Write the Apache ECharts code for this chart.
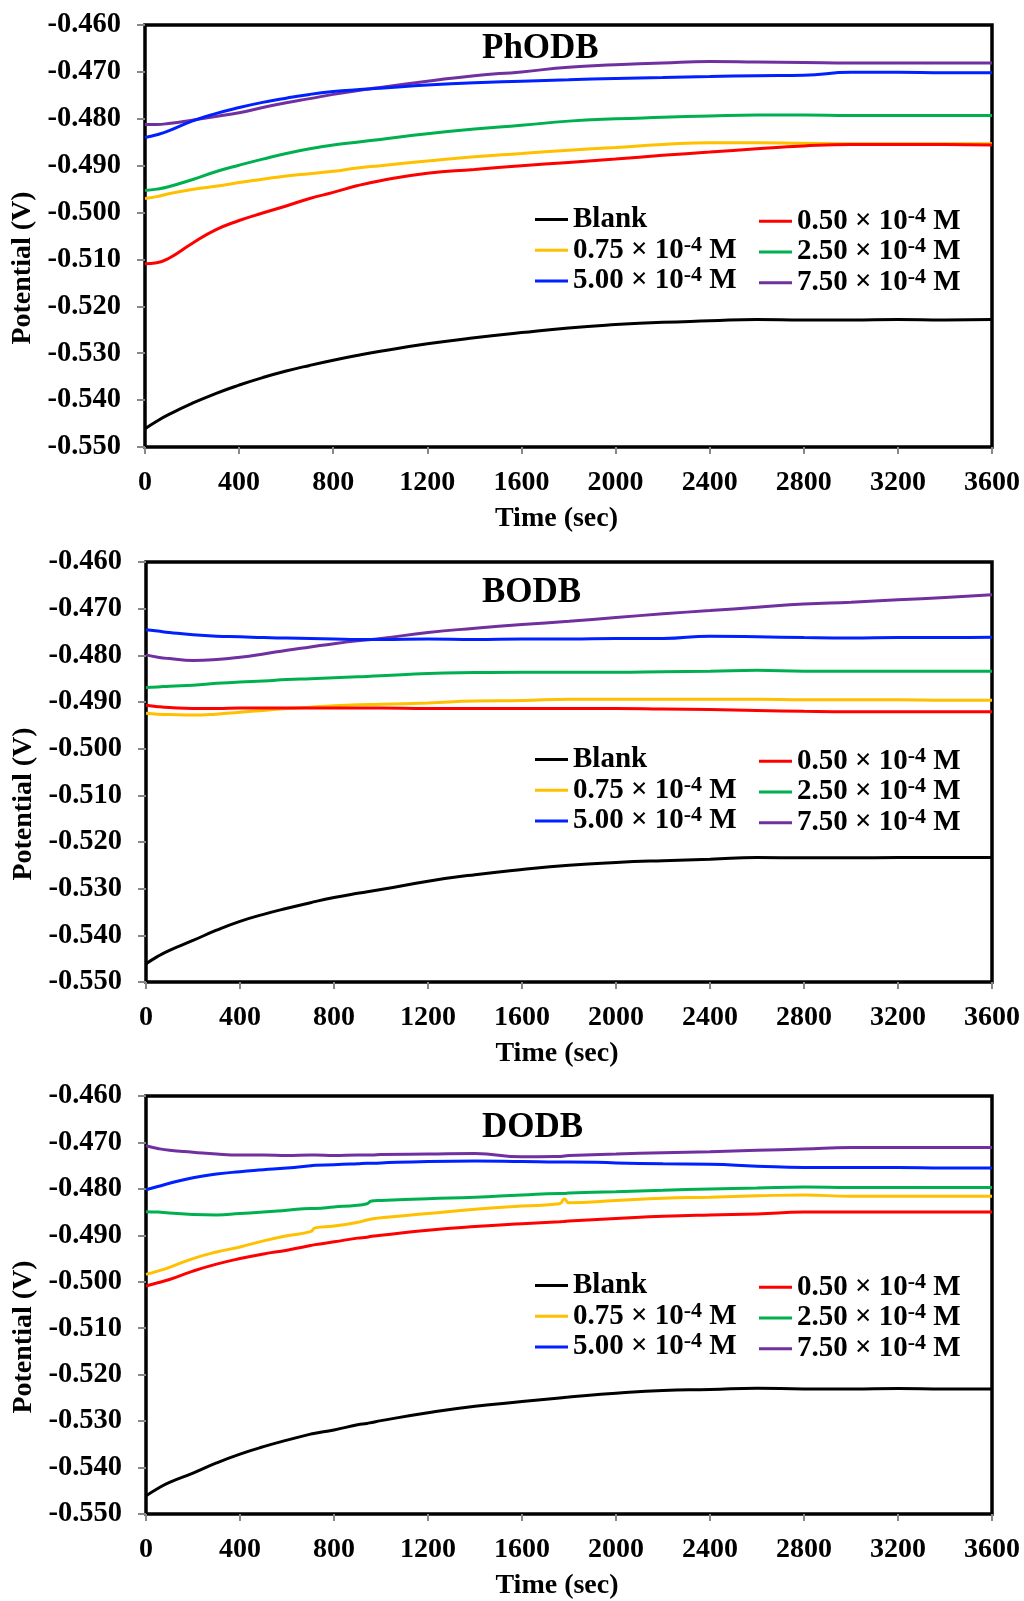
<!DOCTYPE html>
<html>
<head>
<meta charset="utf-8">
<script src="https://cdn.jsdelivr.net/npm/echarts@6/dist/echarts.min.js"></script>
<style>
html,body{margin:0;padding:0;background:#fff;}
#c{width:1024px;height:1601px;}
</style>
</head>
<body>
<div id="c"></div>
<script>
// ---------- DATA ----------
const panelTitles = ['PhODB', 'BODB', 'DODB'];
const seriesNames = ['Blank', '0.50 × 10⁻⁴ M', '0.75 × 10⁻⁴ M', '2.50 × 10⁻⁴ M', '5.00 × 10⁻⁴ M', '7.50 × 10⁻⁴ M'];
const seriesColors = ['#000000', '#FF0000', '#FFC000', '#00B050', '#0020FF', '#7030A0'];
const xTicks = [0, 400, 800, 1200, 1600, 2000, 2400, 2800, 3200, 3600];
const yTicks = [-0.550, -0.540, -0.530, -0.520, -0.510, -0.500, -0.490, -0.480, -0.470, -0.460];

// time (s) for PhODB and BODB panels
const timeA = [0, 50, 100, 200, 300, 400, 500, 600, 700, 800, 900, 1000, 1200, 1400, 1600, 1800, 2000, 2200, 2400, 2600, 2800, 3000, 3200, 3400, 3600];
// time (s) for DODB panel
const timeD = [0, 50, 100, 200, 300, 400, 500, 600, 700, 720, 800, 900, 940, 960, 1000, 1200, 1400, 1600, 1760, 1780, 1800, 2000, 2200, 2400, 2600, 2800, 3000, 3200, 3400, 3600];

// PhODB
const phBlank  = [-0.5461,-0.5445,-0.5431,-0.5407,-0.5386,-0.5368,-0.5352,-0.5338,-0.5326,-0.5315,-0.5305,-0.5296,-0.5280,-0.5267,-0.5256,-0.5246,-0.5239,-0.5234,-0.5231,-0.5228,-0.5229,-0.5229,-0.5228,-0.5229,-0.5228];
const ph050    = [-0.5109,-0.5107,-0.5098,-0.5066,-0.5037,-0.5017,-0.5001,-0.4986,-0.4970,-0.4957,-0.4943,-0.4932,-0.4916,-0.4908,-0.4900,-0.4893,-0.4886,-0.4878,-0.4871,-0.4864,-0.4858,-0.4855,-0.4855,-0.4855,-0.4856];
const ph075    = [-0.4970,-0.4966,-0.4960,-0.4951,-0.4944,-0.4936,-0.4929,-0.4922,-0.4917,-0.4912,-0.4905,-0.4900,-0.4890,-0.4881,-0.4874,-0.4867,-0.4861,-0.4855,-0.4851,-0.4851,-0.4852,-0.4853,-0.4853,-0.4853,-0.4853];
const ph250    = [-0.4953,-0.4950,-0.4945,-0.4930,-0.4913,-0.4899,-0.4886,-0.4874,-0.4864,-0.4856,-0.4850,-0.4844,-0.4832,-0.4822,-0.4814,-0.4805,-0.4800,-0.4797,-0.4794,-0.4792,-0.4792,-0.4793,-0.4793,-0.4793,-0.4793];
const ph500    = [-0.4840,-0.4834,-0.4826,-0.4805,-0.4789,-0.4776,-0.4765,-0.4756,-0.4748,-0.4742,-0.4738,-0.4735,-0.4728,-0.4723,-0.4720,-0.4717,-0.4714,-0.4712,-0.4710,-0.4708,-0.4707,-0.4701,-0.4701,-0.4702,-0.4702];
const ph750    = [-0.4812,-0.4812,-0.4810,-0.4803,-0.4795,-0.4787,-0.4776,-0.4766,-0.4757,-0.4748,-0.4740,-0.4733,-0.4720,-0.4708,-0.4700,-0.4690,-0.4685,-0.4681,-0.4678,-0.4679,-0.4680,-0.4681,-0.4681,-0.4681,-0.4681];

// BODB
const boBlank  = [-0.5461,-0.5445,-0.5432,-0.5411,-0.5389,-0.5370,-0.5355,-0.5342,-0.5330,-0.5319,-0.5310,-0.5302,-0.5284,-0.5270,-0.5259,-0.5250,-0.5244,-0.5240,-0.5237,-0.5233,-0.5234,-0.5234,-0.5233,-0.5233,-0.5233];
const bo050    = [-0.4907,-0.4910,-0.4912,-0.4914,-0.4914,-0.4913,-0.4913,-0.4913,-0.4913,-0.4913,-0.4913,-0.4913,-0.4914,-0.4914,-0.4914,-0.4914,-0.4914,-0.4915,-0.4916,-0.4918,-0.4920,-0.4921,-0.4921,-0.4921,-0.4921];
const bo075    = [-0.4924,-0.4926,-0.4927,-0.4928,-0.4926,-0.4922,-0.4918,-0.4914,-0.4911,-0.4908,-0.4906,-0.4905,-0.4902,-0.4898,-0.4897,-0.4894,-0.4894,-0.4894,-0.4894,-0.4894,-0.4895,-0.4895,-0.4895,-0.4896,-0.4896];
const bo250    = [-0.4869,-0.4868,-0.4866,-0.4864,-0.4860,-0.4857,-0.4855,-0.4852,-0.4850,-0.4848,-0.4846,-0.4844,-0.4839,-0.4837,-0.4836,-0.4836,-0.4836,-0.4835,-0.4834,-0.4832,-0.4834,-0.4834,-0.4834,-0.4834,-0.4834];
const bo500    = [-0.4745,-0.4748,-0.4751,-0.4756,-0.4759,-0.4760,-0.4762,-0.4763,-0.4764,-0.4765,-0.4766,-0.4766,-0.4765,-0.4766,-0.4765,-0.4765,-0.4764,-0.4764,-0.4759,-0.4760,-0.4762,-0.4763,-0.4762,-0.4762,-0.4761];
const bo750    = [-0.4799,-0.4804,-0.4807,-0.4811,-0.4809,-0.4804,-0.4797,-0.4789,-0.4782,-0.4775,-0.4769,-0.4764,-0.4751,-0.4742,-0.4734,-0.4727,-0.4719,-0.4711,-0.4704,-0.4697,-0.4690,-0.4686,-0.4681,-0.4676,-0.4670];

// DODB
const doBlank  = [-0.5461,-0.5445,-0.5432,-0.5412,-0.5390,-0.5371,-0.5355,-0.5341,-0.5328,-0.5326,-0.5319,-0.5308,-0.5305,-0.5303,-0.5299,-0.5282,-0.5268,-0.5258,-0.5250,-0.5249,-0.5248,-0.5240,-0.5234,-0.5232,-0.5229,-0.5231,-0.5231,-0.5230,-0.5231,-0.5231];
const do050    = [-0.5009,-0.5002,-0.4995,-0.4977,-0.4962,-0.4950,-0.4940,-0.4932,-0.4922,-0.4920,-0.4914,-0.4906,-0.4904,-0.4902,-0.4900,-0.4889,-0.4881,-0.4875,-0.4871,-0.4870,-0.4869,-0.4864,-0.4859,-0.4856,-0.4854,-0.4850,-0.4850,-0.4850,-0.4850,-0.4850];
const do075    = [-0.4984,-0.4977,-0.4969,-0.4950,-0.4936,-0.4925,-0.4912,-0.4901,-0.4892,-0.4884,-0.4880,-0.4872,-0.4867,-0.4865,-0.4862,-0.4853,-0.4844,-0.4837,-0.4832,-0.4822,-0.4830,-0.4825,-0.4820,-0.4818,-0.4815,-0.4813,-0.4816,-0.4816,-0.4816,-0.4816];
const do250    = [-0.4849,-0.4850,-0.4852,-0.4855,-0.4856,-0.4853,-0.4850,-0.4846,-0.4842,-0.4842,-0.4839,-0.4835,-0.4832,-0.4826,-0.4825,-0.4821,-0.4818,-0.4813,-0.4810,-0.4810,-0.4809,-0.4806,-0.4803,-0.4800,-0.4798,-0.4796,-0.4797,-0.4797,-0.4797,-0.4797];
const do500    = [-0.4802,-0.4795,-0.4788,-0.4776,-0.4768,-0.4763,-0.4759,-0.4755,-0.4750,-0.4749,-0.4748,-0.4746,-0.4745,-0.4745,-0.4744,-0.4741,-0.4740,-0.4741,-0.4742,-0.4742,-0.4742,-0.4744,-0.4746,-0.4747,-0.4751,-0.4754,-0.4754,-0.4754,-0.4755,-0.4755];
const do750    = [-0.4707,-0.4713,-0.4717,-0.4721,-0.4725,-0.4727,-0.4727,-0.4728,-0.4727,-0.4727,-0.4728,-0.4727,-0.4727,-0.4727,-0.4726,-0.4725,-0.4724,-0.4731,-0.4730,-0.4729,-0.4728,-0.4725,-0.4722,-0.4720,-0.4717,-0.4714,-0.4711,-0.4711,-0.4711,-0.4711];

const panels = [
  {time: timeA, values: [phBlank, ph050, ph075, ph250, ph500, ph750]},
  {time: timeA, values: [boBlank, bo050, bo075, bo250, bo500, bo750]},
  {time: timeD, values: [doBlank, do050, do075, do250, do500, do750]}
];

// ---------- LAYOUT / STYLE ----------
const FONT = "'Liberation Serif', 'Times New Roman', serif";
const gridBoxes = [
  {left: 145, top: 25,   width: 847, height: 422},
  {left: 146, top: 562,  width: 846, height: 420},
  {left: 146, top: 1096, width: 846, height: 421}
];
const titleTops = [31, 575, 1110];
const legendTops = [205, 745, 1271];

const legendText = {
  fontFamily: FONT, fontWeight: 'bold', fontSize: 29, color: '#000',
  rich: {
    t: {fontFamily: FONT, fontWeight: 'bold', fontSize: 29, color: '#000', lineHeight: 32.5},
    s: {fontFamily: FONT, fontWeight: 'bold', fontSize: 22, color: '#000', lineHeight: 13, verticalAlign: 'top'}
  }
};
function legendFormatter(name) {
  if (name.indexOf('⁻⁴') < 0) return '{t|' + name + '}';
  const parts = name.split('⁻⁴');
  return '{t|' + parts[0] + '}{s|-4}{t|' + parts[1] + '}';
}

const option = {
  animation: false,
  backgroundColor: '#fff',
  title: [], grid: [], xAxis: [], yAxis: [], legend: [], series: []
};

gridBoxes.forEach((g, i) => {
  option.grid.push(Object.assign({show: true, borderColor: '#000', borderWidth: 3.5, backgroundColor: '#fff'}, g));
  option.title.push({
    text: panelTitles[i], left: 482, top: titleTops[i], padding: 0,
    textStyle: {fontFamily: FONT, fontWeight: 'bold', fontSize: 35, color: '#000'}
  });
  option.xAxis.push({
    gridIndex: i, type: 'value', min: xTicks[0], max: xTicks[xTicks.length - 1],
    interval: xTicks[1] - xTicks[0],
    axisLine: {show: false},
    axisTick: {show: true, length: 7, lineStyle: {color: '#888', width: 2}},
    splitLine: {show: false},
    axisLabel: {fontFamily: FONT, fontWeight: 'bold', fontSize: 28, color: '#000', margin: 22,
      formatter: v => String(v)},
    name: 'Time (sec)', nameLocation: 'middle', nameGap: 58,
    nameTextStyle: {fontFamily: FONT, fontWeight: 'bold', fontSize: 28, color: '#000', padding: [0, 24, 0, 0]}
  });
  option.yAxis.push({
    gridIndex: i, type: 'value', min: yTicks[0], max: yTicks[yTicks.length - 1],
    interval: 0.01,
    axisLine: {show: false},
    axisTick: {show: true, length: 8, lineStyle: {color: '#888', width: 2}},
    splitLine: {show: false},
    axisLabel: {fontFamily: FONT, fontWeight: 'bold', fontSize: 28.5, color: '#000', margin: 24,
      formatter: v => v.toFixed(3)},
    name: 'Potential (V)', nameLocation: 'middle', nameGap: 106,
    nameTextStyle: {fontFamily: FONT, fontWeight: 'bold', fontSize: 28, color: '#000', padding: [0, 64, 0, 0]}
  });
  const colA = [seriesNames[0], seriesNames[2], seriesNames[4]];
  const colB = [seriesNames[1], seriesNames[3], seriesNames[5]];
  [[colA, 535], [colB, 759]].forEach(([names, left]) => {
    option.legend.push({
      data: names, orient: 'vertical', left: left, top: legendTops[i], padding: 0,
      itemGap: 0, itemWidth: 33, itemHeight: 3, icon: 'rect', selectedMode: false,
      textStyle: legendText, formatter: legendFormatter
    });
  });
  const p = panels[i];
  seriesNames.forEach((nm, k) => {
    option.series.push({
      name: nm, type: 'line', xAxisIndex: i, yAxisIndex: i,
      data: p.time.map((t, j) => [t, p.values[k][j]]),
      showSymbol: false, symbol: 'none', smooth: 0.5,
      color: seriesColors[k],
      lineStyle: {color: seriesColors[k], width: 3},
      z: 10 - k
    });
  });
});

const chart = echarts.init(document.getElementById('c'), null, {renderer: 'canvas'});
chart.setOption(option);
</script>
</body>
</html>
